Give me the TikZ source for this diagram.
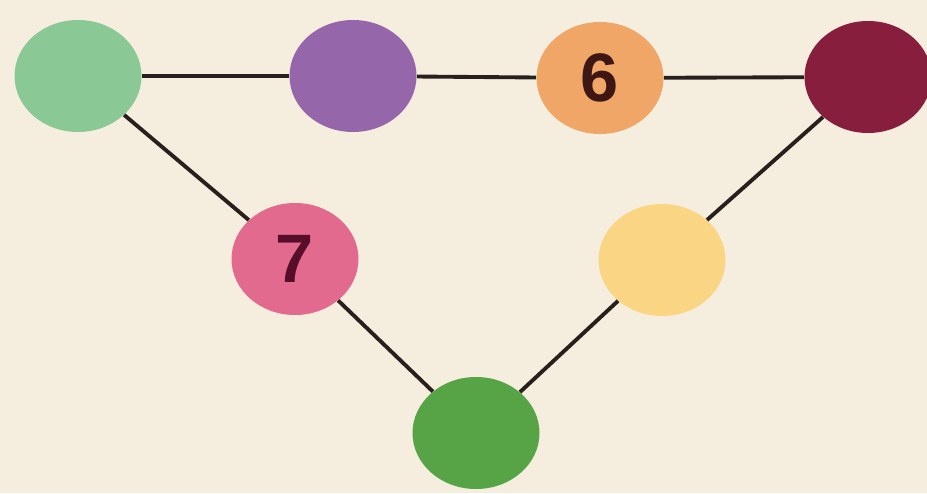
\documentclass[tikz,border=0pt]{standalone}
\usepackage{fontspec}
\setsansfont{Liberation Sans}
\usepackage{xcolor}
\usepackage{tikz}
\usetikzlibrary{shapes.geometric}
\definecolor{bgCream}{RGB}{245, 238, 222}
\definecolor{ballMint}{RGB}{138, 200, 150}
\definecolor{ballPurple}{RGB}{150, 102, 170}
\definecolor{ballOrange}{RGB}{240, 166, 102}
\definecolor{ballMaroon}{RGB}{135, 30, 62}
\definecolor{ballPink}{RGB}{226, 106, 142}
\definecolor{ballYellow}{RGB}{250, 214, 132}
\definecolor{ballGreen}{RGB}{86, 164, 70}
\definecolor{lineDark}{RGB}{40, 32, 28}
\definecolor{digitDark}{RGB}{62, 22, 20}
\definecolor{digitWine}{RGB}{88, 14, 42}
\tikzset{
    ball/.style={
        ellipse,
        minimum width=2.54cm,
        minimum height=2.24cm,
        inner sep=0pt,
        font=\sffamily\bfseries\fontsize{39}{39}\selectfont,
        text=digitDark
    },
    link/.style={
        line width=2.2pt,
        color=lineDark
    }
}

\begin{document}
\begin{tikzpicture}
  \fill[bgCream] (0,0) rectangle (18.54,9.86);
  \useasboundingbox (0,0) rectangle (18.54,9.86);

  \node[ball,fill=ballMint] (mint) at (1.56,8.34) {};
  \node[ball,fill=ballPurple] (purple) at (7.06,8.34) {};
  \node[ball,fill=ballOrange] (orange) at (12.00,8.30) {6};
  \node[ball,fill=ballMaroon] (maroon) at (17.36,8.32) {};
  \node[ball,fill=ballPink,text=digitWine] (pink) at (5.90,4.68) {7};
  \node[ball,fill=ballYellow] (yellow) at (13.24,4.66) {};
  \node[ball,fill=ballGreen] (green) at (9.52,1.20) {};

  \draw[link] (mint) -- (purple);
  \draw[link] (purple) -- (orange);
  \draw[link] (orange) -- (maroon);
  \draw[link] (mint) -- (pink);
  \draw[link] (pink) -- (green);
  \draw[link] (green) -- (yellow);
  \draw[link] (yellow) -- (maroon);
\end{tikzpicture}
\end{document}
